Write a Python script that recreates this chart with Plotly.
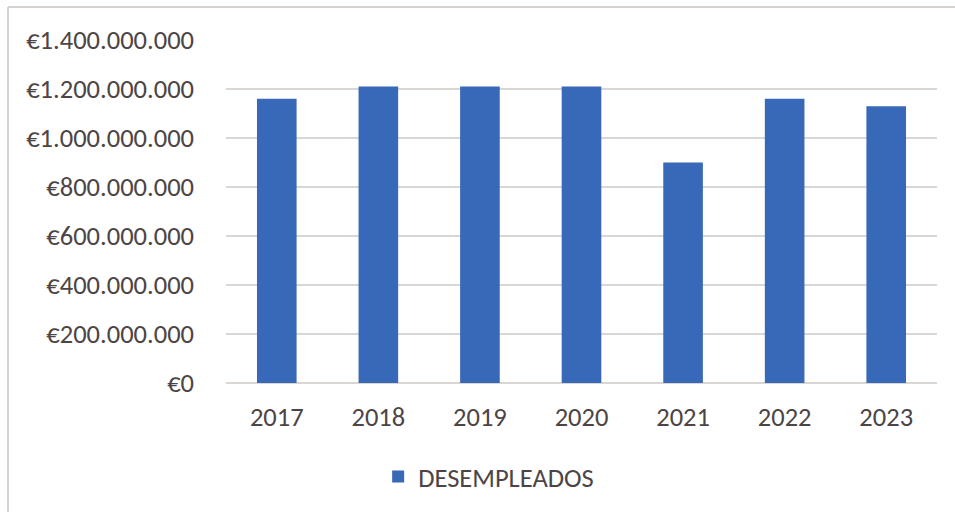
import plotly.graph_objects as go

# Annual amounts for the unemployed (euros)
years = ["2017", "2018", "2019", "2020", "2021", "2022", "2023"]
desempleados = [1_160_000_000, 1_210_000_000, 1_210_000_000, 1_210_000_000,
                900_000_000, 1_160_000_000, 1_130_000_000]
y_ticks = [0, 200_000_000, 400_000_000, 600_000_000, 800_000_000,
           1_000_000_000, 1_200_000_000, 1_400_000_000]
# Spanish-style euro labels: dot as thousands separator
y_labels = ["\u20ac" + f"{v:,}".replace(",", ".") for v in y_ticks]

BAR = "#3868b8"
TEXT = "#4d4545"
GRID = "#d9d6d4"
FONT = "Carlito, Lato, sans-serif"
FS = 26.5

fig = go.Figure(
    go.Bar(
        x=years,
        y=desempleados,
        name="DESEMPLEADOS",
        marker=dict(color=BAR, line=dict(width=0)),
    )
)

fig.update_layout(
    width=955,
    height=512,
    margin=dict(l=226, r=18, t=40, b=128),
    paper_bgcolor="white",
    plot_bgcolor="white",
    bargap=0.61,
    font=dict(family=FONT, color=TEXT),
    showlegend=True,
    legend=dict(
        orientation="h",
        x=0.214,
        xanchor="left",
        y=-0.27,
        yanchor="middle",
        font=dict(size=FS, color=TEXT, family=FONT),
        bgcolor="rgba(0,0,0,0)",
    ),
    xaxis=dict(
        showgrid=False,
        showline=False,
        zeroline=False,
        tickfont=dict(size=FS, color=TEXT, family=FONT),
        ticklabelstandoff=15,
    ),
    yaxis=dict(
        range=[0, 1_400_000_000],
        tickmode="array",
        tickvals=y_ticks,
        ticktext=y_labels,
        showgrid=True,
        gridcolor=GRID,
        gridwidth=1.5,
        zeroline=True,
        zerolinecolor=GRID,
        zerolinewidth=1.5,
        showline=False,
        tickfont=dict(size=FS, color=TEXT, family=FONT),
        ticklabelstandoff=31,
    ),
    shapes=[
        # chart frame: top and left edges
        dict(type="line", xref="paper", yref="paper",
             x0=-0.3066, x1=1.03, y0=1.0959, y1=1.0959,
             line=dict(color="#d6d2d0", width=2)),
        dict(type="line", xref="paper", yref="paper",
             x0=-0.3066, x1=-0.3066, y0=1.0959, y1=-0.38,
             line=dict(color="#d6d2d0", width=2)),
    ],
)

fig.write_html("out.html")
